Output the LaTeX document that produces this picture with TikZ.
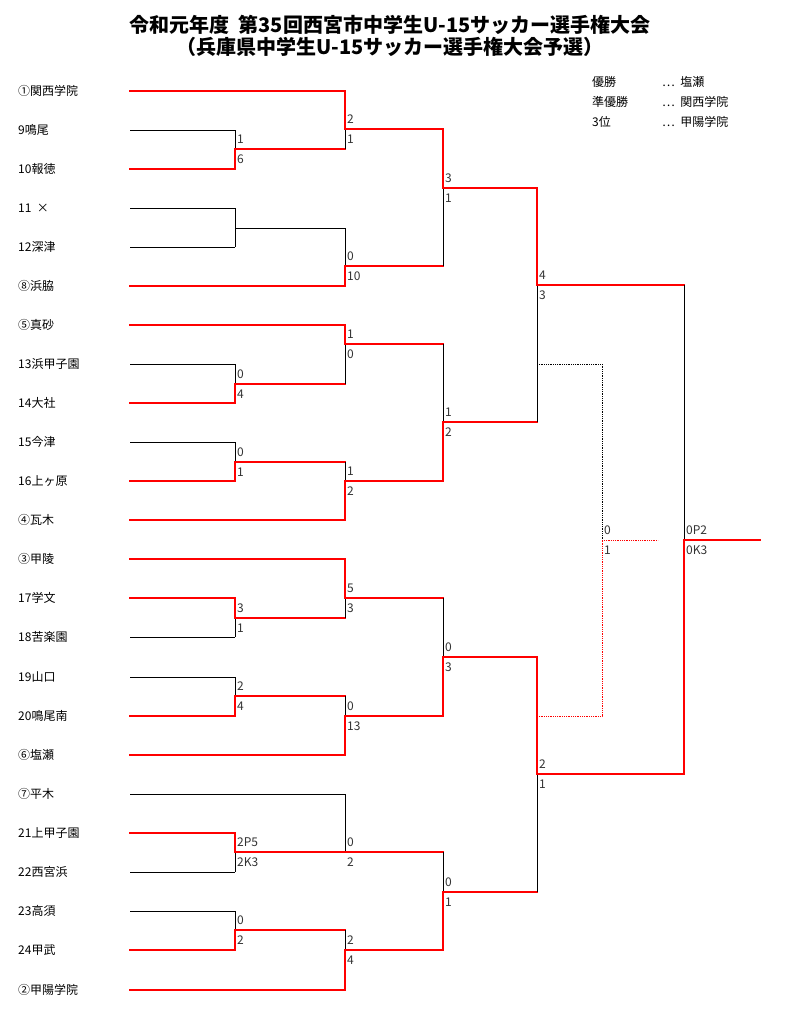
\documentclass[tikz,border=0pt]{standalone}
\usepackage{fontspec}
\setmainfont{Noto Sans CJK JP}
\begin{document}
\begin{tikzpicture}[x=1pt,y=-1pt,
  blk/.style={black,line width=0.8pt},
  win/.style={red,line width=1.6pt,line cap=rect},
  team/.style={anchor=west,font=\fontsize{12}{13}\selectfont,inner sep=0pt},
  sc/.style={font=\fontsize{12}{13}\selectfont,inner sep=2pt,text=black!80}]
\useasboundingbox (0,0) rectangle (800,1013);
\node[font=\bfseries\fontsize{20}{22}\selectfont,align=center] (title) at (390,36) {令和元年度\ \ 第35回西宮市中学生U-15サッカー選手権大会\\（兵庫県中学生U-15サッカー選手権大会予選）};
\node[team] (l1) at (592,82) {優勝}; \node[team] at (662,82) {⋯\ \ 塩瀬};
\node[team] (l2) at (592,102) {準優勝}; \node[team] at (662,102) {⋯\ \ 関西学院};
\node[team] (l3) at (592,122) {3位}; \node[team] at (662,122) {⋯\ \ 甲陽学院};
\newcommand\tm[5]{\node[team] (t#1) at (18,#2) {#3}; \draw[#5] (130,#2)--(#4,#2);}
\tm{1}{91}{①関西学院}{345}{win}
\tm{2}{130}{9鳴尾}{235}{blk}
\tm{3}{169}{10報徳}{235}{win}
\tm{4}{208}{11\ \ ×}{235}{blk}
\tm{5}{247}{12深津}{235}{blk}
\tm{6}{286}{⑧浜脇}{345}{win}
\tm{7}{325}{⑤真砂}{345}{win}
\tm{8}{364}{13浜甲子園}{235}{blk}
\tm{9}{403}{14大社}{235}{win}
\tm{10}{442}{15今津}{235}{blk}
\tm{11}{481}{16上ヶ原}{235}{win}
\tm{12}{520}{④瓦木}{345}{win}
\tm{13}{559}{③甲陵}{345}{win}
\tm{14}{598}{17学文}{235}{win}
\tm{15}{637}{18苦楽園}{235}{blk}
\tm{16}{677}{19山口}{235}{blk}
\tm{17}{716}{20鳴尾南}{235}{win}
\tm{18}{755}{⑥塩瀬}{345}{win}
\tm{19}{794}{⑦平木}{345}{blk}
\tm{20}{833}{21上甲子園}{235}{win}
\tm{21}{872}{22西宮浜}{235}{blk}
\tm{22}{911}{23高須}{235}{blk}
\tm{23}{950}{24甲武}{235}{win}
\tm{24}{990}{②甲陽学院}{345}{win}
% x, ytop, ybot, xout, top score, bottom score, winner, y out
\newcommand\mt[8]{%
 \draw[blk] (#1,#2)--(#1,#3);
 \ifx t#7 \draw[win] (#1,#2)--(#1,#8)--(#4,#8); \fi
 \ifx b#7 \draw[win] (#1,#3)--(#1,#8)--(#4,#8); \fi
 \ifx n#7 \draw[blk] (#1,#8)--(#4,#8); \fi
 \node[sc,anchor=west] at (#1,#8-10) {#5};
 \node[sc,anchor=west] at (#1,#8+10) {#6};}
% block A
\mt{235}{130}{169}{345}{1}{6}{b}{149}
\mt{235}{208}{247}{345}{}{}{n}{228}
\mt{345}{91}{149}{443}{2}{1}{t}{129}
\mt{345}{228}{286}{443}{0}{10}{b}{266}
\mt{443}{129}{266}{537}{3}{1}{t}{188}
% block B
\mt{235}{364}{403}{345}{0}{4}{b}{384}
\mt{235}{442}{481}{345}{0}{1}{b}{462}
\mt{345}{325}{384}{443}{1}{0}{t}{344}
\mt{345}{462}{520}{443}{1}{2}{b}{481}
\mt{443}{344}{481}{537}{1}{2}{b}{422}
\mt{537}{188}{422}{684}{4}{3}{t}{285}
% block C
\mt{235}{598}{637}{345}{3}{1}{t}{618}
\mt{235}{677}{716}{345}{2}{4}{b}{696}
\mt{345}{559}{618}{443}{5}{3}{t}{598}
\mt{345}{696}{755}{443}{0}{13}{b}{716}
\mt{443}{598}{716}{537}{0}{3}{b}{657}
% block D
\mt{235}{833}{872}{345}{2P5}{2K3}{t}{852}
\mt{235}{911}{950}{345}{0}{2}{b}{930}
\mt{345}{794}{852}{443}{0}{2}{b}{852}
\mt{345}{930}{990}{443}{2}{4}{b}{950}
\mt{443}{852}{950}{537}{0}{1}{b}{892}
\mt{537}{657}{892}{684}{2}{1}{t}{774}
% final
\mt{684}{285}{774}{760}{0P2}{0K3}{b}{540}
% third place
\draw[blk,densely dotted] (537,364)-|(602,540);
\draw[red,line width=0.8pt,densely dotted] (537,716)-|(602,540)--(658,540);
\node[sc,anchor=west] at (602,530) {0};
\node[sc,anchor=west] at (602,550) {1};
\end{tikzpicture}
\end{document}
